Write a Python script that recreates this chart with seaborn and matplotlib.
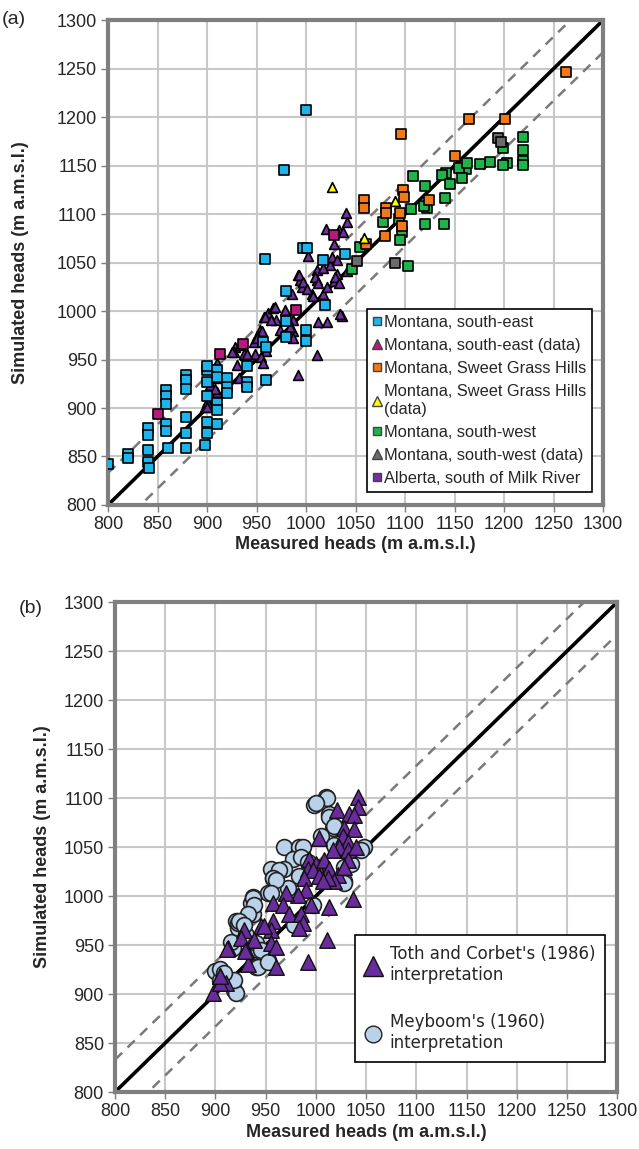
import numpy as np
import pandas as pd
import matplotlib
matplotlib.use("Agg")
import matplotlib.pyplot as plt
import seaborn as sns
from matplotlib.lines import Line2D

# ---- panel (a) data (measured, simulated) ----
se_x = [800, 820, 820, 840, 840, 840, 840, 841, 859, 859, 859, 859, 859, 861,
        879, 879, 879, 879, 879, 879, 900, 900, 900, 900, 900, 898, 900,
        910, 910, 910, 910, 910, 920, 920, 920, 940, 940, 940, 960, 957, 960,
        980, 980, 980, 1000, 1000, 1019, 978, 1000, 959, 997, 1001, 1017, 1039]
se_y = [842, 853, 848, 879, 872, 857, 844, 838, 919, 912, 904, 884, 876, 859,
        934, 929, 920, 891, 874, 859, 939, 927, 886, 874, 912, 862, 943,
        939, 932, 905, 898, 884, 931, 922, 915, 943, 927, 922, 929, 968, 963,
        1021, 990, 973, 980, 969, 1006, 1145, 1207, 1054, 1065, 1065, 1053, 1059]

sed_x = [850, 913, 936, 990, 1028]
sed_y = [894, 956, 966, 1001, 1078]

sgh_x = [1262, 1164, 1201, 1096, 1150, 1098, 1099, 1058, 1058, 1081, 1081,
         1095, 1124, 1097, 1080, 1061]
sgh_y = [1246, 1198, 1198, 1183, 1160, 1125, 1118, 1114, 1106, 1106, 1101,
         1101, 1114, 1088, 1077, 1069]

sghd_x = [1026, 1058, 1090]
sghd_y = [1128, 1075, 1113]

sw_x = [1219, 1219, 1219, 1219, 1199, 1203, 1199, 1186, 1176, 1161, 1154, 1157,
        1141, 1137, 1108, 1145, 1120, 1140, 1122, 1119, 1106, 1094, 1078, 1120,
        1139, 1097, 1095, 1054, 1046, 1103, 1162]
sw_y = [1179, 1166, 1155, 1151, 1168, 1153, 1151, 1154, 1152, 1146, 1147, 1137,
        1142, 1140, 1139, 1131, 1129, 1117, 1106, 1108, 1105, 1095, 1092, 1090,
        1090, 1081, 1073, 1066, 1043, 1046, 1153]

swd_x = [1051, 1090, 1194, 1197]
swd_y = [1052, 1050, 1178, 1174]

ab_x = [898, 900, 906, 910, 905, 909, 910, 930, 928, 933, 938, 932, 947, 953,
        957, 958, 962, 960, 967, 970, 974, 987, 987, 987, 992, 986, 992, 994,
        996, 1006, 1011, 1011, 1017, 1021, 1011, 1036, 1031, 1028, 1024,
        1040, 1041, 1020, 1033, 1037, 1002, 1028, 1026, 1031, 1017, 993, 997,
        1001, 1009, 1012, 1007, 1021, 1029, 1033, 1041, 969, 979, 982, 984,
        959, 965, 955, 950, 948, 954, 927, 937, 957, 1034, 1012, 903, 908,
        900, 925, 940, 950]
ab_y = [901, 906, 912, 917, 922, 931, 946, 944, 963, 965, 955, 931, 968, 980,
        974, 994, 998, 959, 1003, 991, 980, 991, 979, 972, 934, 1018, 1037, 1032,
        1025, 1018, 1032, 1042, 1018, 989, 955, 995, 1038, 1031, 1047,
        1101, 1092, 1085, 1084, 1082, 1057, 1069, 1056, 1053, 1044, 1037, 1030,
        1023, 1035, 1029, 1015, 1025, 1035, 1029, 1041, 1004, 1001, 991, 984,
        994, 991, 979, 974, 956, 953, 958, 956, 946, 997, 989, 924, 920,
        901, 958, 956, 972]

# ---- panel (b) data ----
toth_x = [1042, 1042, 1021, 1033, 1038, 1028, 1038, 1003, 1027, 1032, 1023, 1017,
          1032, 1040, 993, 1000, 992, 997, 1008, 1013, 1022, 1018, 1003, 1012,
          1007, 1032, 1028, 988, 990, 982, 970, 995, 957, 967, 973, 985, 987,
          983, 957, 955, 945, 928, 925, 938, 930, 955, 960, 960, 932, 912, 905,
          910, 898, 1037, 1013, 1011, 992, 948, 929, 911, 905, 905]
toth_y = [1101, 1091, 1088, 1084, 1083, 1069, 1068, 1059, 1061, 1055, 1050, 1047,
          1047, 1050, 1038, 1033, 1028, 1027, 1037, 1028, 1021, 1015, 1020, 1018,
          1015, 1037, 1030, 1018, 1006, 1001, 1003, 991, 993, 991, 982, 982, 972,
          967, 975, 965, 969, 965, 957, 955, 945, 952, 948, 928, 931, 947, 918,
          911, 901, 997, 989, 955, 933, 969, 944, 946, 911, 918]

mey_x = [1010, 998, 1013, 1017, 968, 983, 977, 955, 968, 957, 972, 952, 937, 935,
         937, 920, 922, 917, 942, 952, 900, 918, 920, 905, 1028, 1048, 1045,
         1000, 983, 978, 997, 940, 1011, 1000, 1013, 1018, 1005, 987, 1018, 985,
         992, 1028, 1028, 1035, 963, 957, 960, 955, 937, 938, 932, 922, 930,
         940, 915, 945, 942, 952, 905, 918, 908, 923, 928]
mey_y = [1101, 1093, 1084, 1069, 1050, 1050, 1038, 1028, 1028, 1018, 1008, 1003,
         999, 993, 982, 975, 967, 947, 945, 935, 924, 904, 901, 914, 1015, 1050,
         1047, 1030, 1020, 970, 991, 928, 1100, 1095, 1081, 1071, 1061, 1050, 1052,
         1040, 1035, 1030, 1013, 1033, 1027, 1018, 1016, 1003, 998, 991, 982,
         972, 960, 952, 953, 945, 928, 933, 926, 914, 921, 975, 970]

ticks = list(range(800, 1301, 50))
offset = 33

sns.set_style("white")
plt.rcParams['font.family'] = ['Liberation Sans', 'DejaVu Sans']

fig = plt.figure(figsize=(6.39, 11.49), dpi=100)
ax1 = fig.add_axes([0.169, 0.5605, 0.775, 0.422])
ax2 = fig.add_axes([0.180, 0.0496, 0.786, 0.4264])


def style_axes(ax):
    ax.set_xlim(800, 1300)
    ax.set_ylim(800, 1300)
    ax.set_xticks(ticks)
    ax.set_yticks(ticks)
    ax.grid(True, color="#c8c8c8", linewidth=1.5, zorder=0)
    ax.set_axisbelow(True)
    for s in ax.spines.values():
        s.set_visible(True)
        s.set_color("#7f7f7f")
        s.set_linewidth(3)
    ax.tick_params(axis="both", direction="out", length=5, width=1,
                   color="#7f7f7f", labelsize=13, pad=3,
                   bottom=True, left=True)
    xx = np.array([800, 1300])
    ax.plot(xx, xx, color="black", lw=2.6, zorder=1)
    ax.plot(xx, xx + offset, color="#7a7a7a", lw=1.8, ls=(0, (4, 3)), zorder=1)
    ax.plot(xx, xx - offset, color="#7a7a7a", lw=1.8, ls=(0, (4, 3)), zorder=1)


style_axes(ax1)
style_axes(ax2)

sq = 55
ec = "black"
series_a = [
    (ab_x, ab_y, "#7030a0", "^", sq * 0.9),
    (se_x, se_y, "#1eb4ea", "s", sq),
    (sed_x, sed_y, "#b8197f", "s", sq),
    (sw_x, sw_y, "#22b24c", "s", sq),
    (sgh_x, sgh_y, "#f2781c", "s", sq),
    (sghd_x, sghd_y, "#ffff00", "^", sq * 0.9),
    (swd_x, swd_y, "#6b6b6b", "s", sq),
]
for xs, ys, col, mk, size in series_a:
    df = pd.DataFrame({"measured": xs, "simulated": ys})
    sns.scatterplot(data=df, x="measured", y="simulated", ax=ax1, color=col,
                    marker=mk, s=size, edgecolor=ec, linewidth=1.2, zorder=3)

ax1.set_xlabel("Measured heads (m a.m.s.l.)", fontsize=13, fontweight="bold",
               labelpad=2)
ax1.set_ylabel("Simulated heads (m a.m.s.l.)", fontsize=13, fontweight="bold",
               labelpad=20)

handles_a = [
    Line2D([], [], ls="", marker="s", color="#1eb4ea", mec="#444444", ms=6),
    Line2D([], [], ls="", marker="^", color="#b8197f", mec="#444444", ms=7),
    Line2D([], [], ls="", marker="s", color="#f2781c", mec="#444444", ms=6),
    Line2D([], [], ls="", marker="^", color="#ffff00", mec="#444444", ms=7),
    Line2D([], [], ls="", marker="s", color="#22b24c", mec="#444444", ms=6),
    Line2D([], [], ls="", marker="^", color="#6b6b6b", mec="#444444", ms=7),
    Line2D([], [], ls="", marker="s", color="#7030a0", mec="#444444", ms=6),
]
labels_a = ["Montana, south-east", "Montana, south-east (data)",
            "Montana, Sweet Grass Hills", "Montana, Sweet Grass Hills\n(data)",
            "Montana, south-west", "Montana, south-west (data)",
            "Alberta, south of Milk River"]
leg = ax1.legend(handles_a, labels_a, loc="lower right",
                 bbox_to_anchor=(0.978, 0.027), fontsize=11.8, frameon=True,
                 fancybox=False, edgecolor="black", framealpha=1,
                 handlelength=0.45, handletextpad=0.25, labelspacing=0.5,
                 borderpad=0.35, borderaxespad=0)
leg.get_frame().set_linewidth(1.2)

df_m = pd.DataFrame({"measured": mey_x, "simulated": mey_y})
df_t = pd.DataFrame({"measured": toth_x, "simulated": toth_y})
sns.scatterplot(data=df_m, x="measured", y="simulated", ax=ax2, color="#b9d2ea",
                marker="o", s=130, edgecolor="#222222", linewidth=1.2, zorder=3)
sns.scatterplot(data=df_t, x="measured", y="simulated", ax=ax2, color="#6a2c9c",
                marker="^", s=125, edgecolor="#111111", linewidth=1.0, zorder=4)
ax2.set_xlabel("Measured heads (m a.m.s.l.)", fontsize=13, fontweight="bold",
               labelpad=3)
ax2.set_ylabel("Simulated heads (m a.m.s.l.)", fontsize=13, fontweight="bold",
               labelpad=9)

handles_b = [
    Line2D([], [], ls="", marker="^", color="#6a2c9c", mec="#111111", ms=14),
    Line2D([], [], ls="", marker="o", color="#b9d2ea", mec="#222222", ms=12),
]
labels_b = ["Toth and Corbet's (1986)\ninterpretation",
            "Meyboom's (1960)\ninterpretation"]
leg2 = ax2.legend(handles_b, labels_b, loc="lower right",
                  bbox_to_anchor=(0.976, 0.061), frameon=True, fancybox=False,
                  edgecolor="black", framealpha=1, handlelength=1.0,
                  handletextpad=0.5, labelspacing=1.75, borderpad=0.6,
                  borderaxespad=0,
                  prop={"family": "DejaVu Sans", "size": 12})
leg2.get_frame().set_linewidth(1.2)

fig.text(0.003, 0.99, "(a)", fontsize=14, va="top", ha="left")
fig.text(0.03, 0.478, "(b)", fontsize=14, va="top", ha="left")

fig.savefig("out.png", dpi=100)
